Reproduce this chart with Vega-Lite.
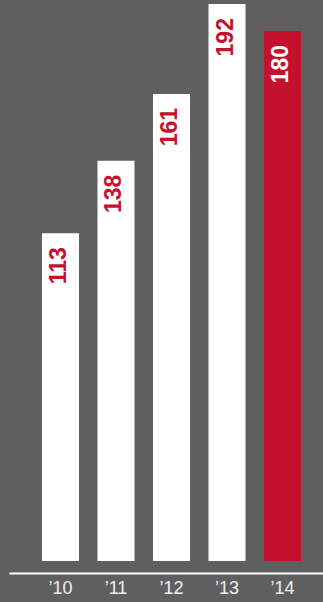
{
  "$schema": "https://vega.github.io/schema/vega-lite/v6.json",
  "width": 314,
  "height": 561,
  "autosize": {"type": "none"},
  "padding": {"left": 9, "top": 0, "right": 0, "bottom": 41},
  "background": "#5f5f5f",
  "config": {"view": {"stroke": null}},
  "data": {"values": [
    {"year": "’10", "value": 113, "bar": 113, "current": "no"},
    {"year": "’11", "value": 138, "bar": 138, "current": "no"},
    {"year": "’12", "value": 161, "bar": 161, "current": "no"},
    {"year": "’13", "value": 192, "bar": 192, "current": "no"},
    {"year": "’14", "value": 180, "bar": 182.7, "current": "yes"}
  ]},
  "encoding": {
    "x": {
      "field": "year", "type": "nominal", "sort": null,
      "scale": {"paddingInner": 0.333, "paddingOuter": 0.495, "align": 0.6},
      "axis": {
        "title": null, "orient": "bottom", "offset": 12,
        "domainColor": "#ffffff", "domainWidth": 2, "ticks": false,
        "labelAngle": 0, "labelFont": "Liberation Sans", "labelFontSize": 18,
        "labelColor": "#f0f0f0", "labelPadding": 6, "grid": false
      }
    },
    "y": {
      "field": "bar", "type": "quantitative",
      "scale": {"domain": [0, 193.4], "nice": false, "zero": true},
      "axis": null
    }
  },
  "layer": [
    {
      "mark": {"type": "bar"},
      "encoding": {
        "color": {
          "field": "current", "type": "nominal",
          "scale": {"domain": ["no", "yes"], "range": ["#ffffff", "#c3112e"]},
          "legend": null
        }
      }
    },
    {
      "mark": {
        "type": "text", "angle": 270, "align": "right", "baseline": "alphabetic",
        "dx": -14, "dy": 5.5, "font": "Liberation Sans", "fontWeight": "bold", "fontSize": 23
      },
      "encoding": {
        "text": {"field": "value", "type": "quantitative"},
        "color": {
          "field": "current", "type": "nominal",
          "scale": {"domain": ["no", "yes"], "range": ["#c3112e", "#ffffff"]},
          "legend": null
        }
      }
    }
  ],
  "resolve": {"scale": {"color": "independent"}}
}
